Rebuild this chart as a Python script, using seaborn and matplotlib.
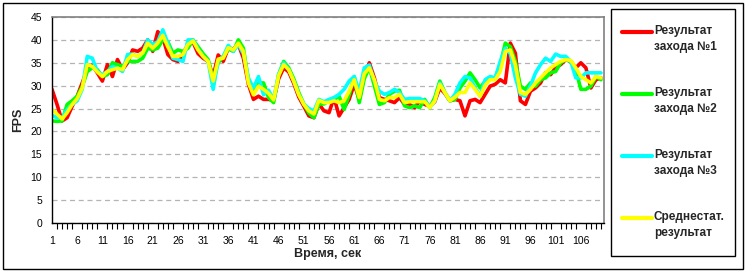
import matplotlib
matplotlib.use("Agg")
import matplotlib.pyplot as plt
import numpy as np
import pandas as pd
import seaborn as sns
from matplotlib.patches import Rectangle
from matplotlib.ticker import FixedLocator, MultipleLocator

# ---------------- data ----------------
seconds = list(range(1, 111))

run1 = [29.2, 25.9, 22.3, 23.0, 25.5, 27.7, 30.6, 33.5, 34.5, 32.8,
        31.0, 34.6, 32.0, 35.7, 33.5, 35.0, 37.8, 37.5, 38.2, 40.0,
        37.5, 41.8, 40.5, 36.8, 35.7, 35.3, 37.0, 38.9, 39.5, 37.0,
        36.0, 35.3, 32.0, 36.7, 35.3, 38.2, 38.0, 39.0, 36.0, 30.3,
        27.0, 27.7, 27.0, 27.0, 26.8, 31.5, 33.9, 33.0, 30.5, 27.5,
        25.5, 23.4, 23.0, 26.0, 24.5, 24.1, 27.4, 23.4, 25.2, 27.0,
        30.3, 27.0, 32.4, 35.0, 31.7, 27.4, 27.0, 26.7, 26.3, 27.4,
        25.9, 25.9, 25.2, 26.7, 25.9, 25.5, 26.5, 29.5, 28.3, 26.7,
        27.0, 26.7, 23.4, 26.7, 27.0, 26.3, 28.1, 29.9, 30.3, 31.3,
        30.6, 39.3, 37.1, 26.7, 25.9, 28.8, 29.5, 30.6, 32.8, 32.4,
        33.9, 34.6, 35.7, 35.3, 33.9, 35.0, 33.9, 29.5, 31.3, 31.7]

run2 = [22.3, 22.2, 22.3, 25.9, 26.7, 27.7, 29.8, 33.1, 33.9, 33.5,
        32.0, 32.4, 35.0, 34.6, 34.2, 35.3, 35.3, 35.3, 36.0, 38.2,
        37.8, 38.2, 40.0, 39.6, 37.1, 37.8, 37.5, 38.2, 40.0, 38.5,
        37.0, 35.7, 31.5, 35.0, 36.4, 38.0, 37.5, 40.0, 38.2, 31.0,
        29.0, 30.6, 30.6, 27.4, 26.3, 32.4, 35.3, 33.9, 31.5, 28.5,
        26.0, 24.0, 23.0, 26.0, 26.0, 26.7, 27.0, 27.7, 24.8, 28.0,
        32.0, 26.3, 31.5, 34.0, 30.0, 25.9, 26.3, 28.1, 28.8, 29.0,
        25.6, 25.2, 25.6, 25.2, 27.0, 25.2, 27.4, 31.0, 28.5, 26.7,
        27.0, 29.5, 31.0, 32.8, 31.3, 29.5, 31.0, 31.7, 31.7, 34.6,
        39.3, 38.5, 35.3, 29.9, 29.2, 30.6, 29.9, 31.3, 31.7, 32.8,
        33.1, 35.0, 35.7, 35.3, 33.5, 29.2, 29.2, 29.9, 32.0, 31.3]

run3 = [23.5, 23.0, 23.0, 24.8, 25.9, 26.7, 29.2, 36.4, 36.0, 33.1,
        32.4, 33.1, 34.2, 33.9, 33.1, 36.8, 36.9, 36.4, 37.1, 40.0,
        39.0, 39.6, 42.2, 39.3, 36.0, 35.7, 35.3, 40.0, 40.0, 38.0,
        36.4, 35.3, 29.2, 35.5, 36.4, 38.8, 37.5, 39.0, 37.0, 31.7,
        29.5, 32.0, 28.0, 29.0, 27.0, 32.5, 35.0, 33.5, 31.0, 28.1,
        26.0, 25.0, 24.5, 27.0, 26.5, 27.0, 27.4, 28.1, 29.2, 31.0,
        32.0, 28.8, 33.9, 34.5, 31.0, 28.8, 28.1, 28.5, 29.2, 28.5,
        27.0, 27.2, 27.2, 27.2, 26.7, 25.2, 26.7, 30.6, 28.5, 26.7,
        28.1, 30.6, 32.0, 31.7, 29.5, 27.7, 31.3, 32.0, 31.7, 35.3,
        38.2, 37.0, 31.7, 28.1, 27.7, 30.0, 32.8, 34.6, 36.0, 35.3,
        36.9, 36.4, 36.4, 35.3, 31.7, 31.7, 32.8, 32.8, 32.8, 32.8]

average = [24.8, 23.8, 22.7, 24.1, 25.9, 27.2, 29.5, 34.6, 34.2, 33.0,
           32.0, 33.1, 33.5, 33.8, 33.5, 35.7, 36.8, 36.4, 37.1, 39.3,
           38.2, 39.3, 41.0, 38.5, 36.4, 36.4, 36.8, 39.0, 39.8, 37.8,
           36.4, 35.3, 31.0, 35.8, 36.0, 38.3, 37.8, 39.3, 37.5, 30.6,
           28.0, 29.9, 29.2, 28.3, 26.9, 32.2, 34.6, 33.5, 31.0, 28.0,
           25.9, 24.5, 23.8, 26.8, 26.3, 26.3, 26.7, 26.3, 26.7, 28.8,
           31.3, 27.4, 32.6, 33.9, 31.3, 27.0, 26.7, 27.4, 27.4, 28.1,
           26.3, 26.5, 26.5, 26.5, 26.5, 25.2, 26.7, 30.3, 28.5, 26.7,
           27.5, 28.5, 28.5, 30.6, 29.2, 27.7, 30.1, 31.3, 31.3, 33.1,
           37.5, 37.8, 34.5, 28.5, 28.1, 29.2, 30.6, 31.7, 32.8, 33.9,
           34.6, 35.3, 35.7, 35.5, 33.9, 32.0, 31.3, 30.6, 32.0, 31.7]

series_labels = ["Результат\nзахода №1", "Результат\nзахода №2",
                 "Результат\nзахода №3", "Среднестат.\nрезультат"]
series_colors = ["#FF0000", "#00FF00", "#00FFFF", "#FFFF00"]
x_tick_labels = list(range(1, 111, 5))
y_ticks = list(range(0, 50, 5))

# ---------------- style ----------------
sns.set_theme(style="white")
plt.rcParams['font.family'] = ['Liberation Sans', 'DejaVu Sans']

W, H = 745, 271
fig = plt.figure(figsize=(W / 100, H / 100), dpi=100)
fig.patch.set_facecolor("white")

ax = fig.add_axes([52 / W, 1 - 223 / H, 552 / W, 206 / H])

df = pd.DataFrame({
    "t": seconds * 4,
    "fps": run1 + run2 + run3 + average,
    "series": sum([[lab] * len(seconds) for lab in series_labels], []),
})

sns.lineplot(data=df, x="t", y="fps", hue="series", hue_order=series_labels,
             palette=series_colors, linewidth=2.6, legend=False, ax=ax,
             estimator=None, sort=False)
for ln in ax.lines:
    ln.set_solid_joinstyle("round")
    ln.set_solid_capstyle("round")

ax.set_xlim(1, 110.6)
ax.set_ylim(0, 45)

ax.yaxis.set_major_locator(FixedLocator(y_ticks))
ax.set_yticklabels([str(v) for v in y_ticks])
ax.xaxis.set_major_locator(FixedLocator(x_tick_labels))
ax.set_xticklabels([str(v) for v in x_tick_labels])
ax.xaxis.set_minor_locator(MultipleLocator(1))

ax.tick_params(axis="both", which="both", direction="out", length=4,
               width=0.8, color="black", labelsize=7.5, labelcolor="black")
ax.tick_params(axis="x", which="major", pad=5)
ax.tick_params(axis="y", which="major", pad=3)
ax.tick_params(axis="x", which="minor", bottom=True)

ax.yaxis.grid(True, linestyle=(0, (4, 3)), color="#B4B4B4", linewidth=0.9)
ax.xaxis.grid(False)
ax.set_axisbelow(True)

for side in ["left", "bottom"]:
    ax.spines[side].set_color("black")
    ax.spines[side].set_linewidth(1.0)
for side in ["top", "right"]:
    ax.spines[side].set_color("#808080")
    ax.spines[side].set_linewidth(1.2)

ax.set_xlabel("Время, сек", fontsize=9, fontweight="bold", labelpad=2)
ax.set_ylabel("FPS", fontsize=9, fontweight="bold", labelpad=5)

# ---------------- legend ----------------
fs = 8.5
fs_px = fs * 100 / 72
leg = fig.legend(handles=ax.lines[:4], labels=series_labels,
                 loc="upper left", bbox_to_anchor=(622 / W, 1 - 25 / H),
                 frameon=False,
                 prop={"size": fs, "weight": "bold"},
                 borderpad=0, labelspacing=2.9, handlelength=30 / fs_px,
                 handletextpad=2 / fs_px, borderaxespad=0)
for t in leg.get_texts():
    t.set_linespacing(1.42)
# align each swatch with the first text line
px2pt = 72 / 100
for hl in leg.get_lines():
    yd = np.asarray(hl.get_ydata(), dtype=float)
    hl.set_ydata(yd + 7.5 * px2pt)
    hl.set_linewidth(3.0)

# legend frame and outer border of the chart area
fig.patches.append(Rectangle((610.5 / W, 1 - 255.5 / H), 124 / W, 247 / H,
                             transform=fig.transFigure, fill=False,
                             edgecolor="black", linewidth=1.0))
fig.patches.append(Rectangle((2.5 / W, 2.5 / H), 1 - 5 / W, 1 - 5 / H,
                             transform=fig.transFigure, fill=False,
                             edgecolor="black", linewidth=1.0))

fig.savefig("out.png", dpi=100, facecolor="white")
